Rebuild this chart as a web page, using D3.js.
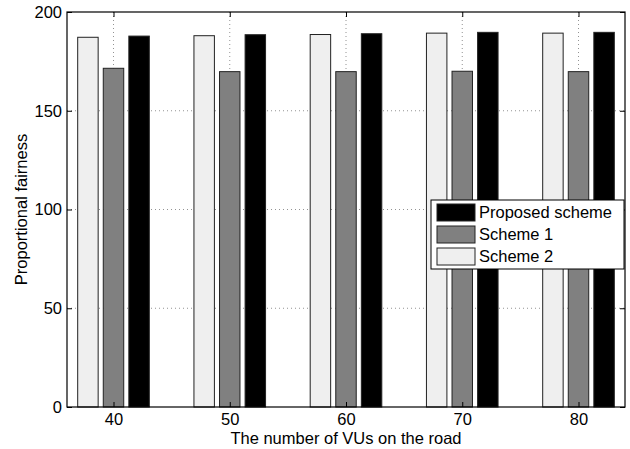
<!DOCTYPE html>
<html>
<head>
<meta charset="utf-8">
<script src="https://cdn.jsdelivr.net/npm/d3@7"></script>
<style>
  body { margin: 0; background: #fff; }
  text { font-family: "Liberation Sans", Arial, sans-serif; }
</style>
</head>
<body>
<div id="chart"></div>
<script>
// data
const vus = [40, 50, 60, 70, 80];
const scheme2 = [187.2, 188.0, 188.6, 189.3, 189.3];
const scheme1 = [171.5, 169.8, 169.8, 170.0, 169.8];
const proposed = [187.8, 188.5, 189.0, 189.7, 189.7];
const yTicks = [0, 50, 100, 150, 200];

// bar order left to right in each group
const series = [
  {name: "Scheme 2", values: scheme2, fill: "#efefef"},
  {name: "Scheme 1", values: scheme1, fill: "#808080"},
  {name: "Proposed scheme", values: proposed, fill: "#000000"}
];
const legendOrder = [2, 1, 0];

/* sizes */
const width = 630, height = 449;
const margin = {top: 12, right: 5, bottom: 42, left: 67};
const w = width - margin.left - margin.right;
const h = height - margin.top - margin.bottom;

const svg = d3.select("#chart").append("svg")
  .attr("width", width)
  .attr("height", height);
const g = svg.append("g")
  .attr("transform", "translate(" + margin.left + "," + margin.top + ")");

/* scales */
const x = d3.scaleLinear().domain([36, 84]).range([0, w]);
const y = d3.scaleLinear().domain([0, 200]).range([h, 0]);
const offset = 2.2;   // group offset in x units
const barW = x(36 + 1.76) - x(36);

/* grid */
g.selectAll(".gx").data(vus).enter().append("line")
  .attr("x1", d => x(d)).attr("x2", d => x(d))
  .attr("y1", 0).attr("y2", h)
  .attr("stroke", "#777").attr("stroke-width", 0.8)
  .attr("stroke-dasharray", "1,3");
g.selectAll(".gy").data(yTicks.slice(1, -1)).enter().append("line")
  .attr("x1", 0).attr("x2", w)
  .attr("y1", d => y(d)).attr("y2", d => y(d))
  .attr("stroke", "#777").attr("stroke-width", 0.8)
  .attr("stroke-dasharray", "1,3");

/* bars */
series.forEach((s, i) => {
  g.selectAll(".b" + i).data(s.values).enter().append("rect")
    .attr("x", (d, j) => x(vus[j] + (i - 1) * offset) - barW / 2)
    .attr("y", d => y(d))
    .attr("width", barW)
    .attr("height", d => h - y(d))
    .attr("fill", s.fill)
    .attr("stroke", "#222")
    .attr("stroke-width", 1);
});

/* axes */
const tickStyle = sel => {
  sel.select(".domain").remove();
  sel.selectAll("text").style("font-size", "16.5px").attr("fill", "#000")
    .style("font-family", "'Liberation Sans', Arial, sans-serif");
  sel.selectAll("line").attr("stroke", "#000");
};
g.append("g").attr("transform", "translate(0," + h + ")")
  .call(d3.axisBottom(x).tickValues(vus).tickSize(-5).tickPadding(6))
  .call(tickStyle);
g.append("g")
  .call(d3.axisTop(x).tickValues(vus).tickSize(-5).tickFormat(""))
  .call(tickStyle);
g.append("g")
  .call(d3.axisLeft(y).tickValues(yTicks).tickSize(-5).tickPadding(5))
  .call(tickStyle);
g.append("g").attr("transform", "translate(" + w + ",0)")
  .call(d3.axisRight(y).tickValues(yTicks).tickSize(-5).tickFormat(""))
  .call(tickStyle);

g.append("rect")
  .attr("width", w).attr("height", h)
  .attr("fill", "none").attr("stroke", "#000").attr("stroke-width", 1.2);

/* axis labels */
svg.append("text")
  .attr("x", margin.left + w / 2).attr("y", 444)
  .attr("text-anchor", "middle")
  .style("font-size", "16.5px")
  .text("The number of VUs on the road");
svg.append("text")
  .attr("transform", "translate(27," + (margin.top + h / 2) + ") rotate(-90)")
  .attr("text-anchor", "middle")
  .style("font-size", "16.5px")
  .text("Proportional fairness");

/* legend */
const lg = svg.append("g").attr("transform", "translate(431,200)");
lg.append("rect")
  .attr("width", 193).attr("height", 69)
  .attr("fill", "#fff").attr("stroke", "#000").attr("stroke-width", 1);
legendOrder.forEach((si, k) => {
  const s = series[si];
  lg.append("rect")
    .attr("x", 6).attr("y", 4 + k * 22)
    .attr("width", 38).attr("height", 17)
    .attr("fill", s.fill).attr("stroke", "#222");
  lg.append("text")
    .attr("x", 48).attr("y", 18 + k * 22)
    .style("font-size", "16.5px")
    .text(s.name);
});
</script>
</body>
</html>
